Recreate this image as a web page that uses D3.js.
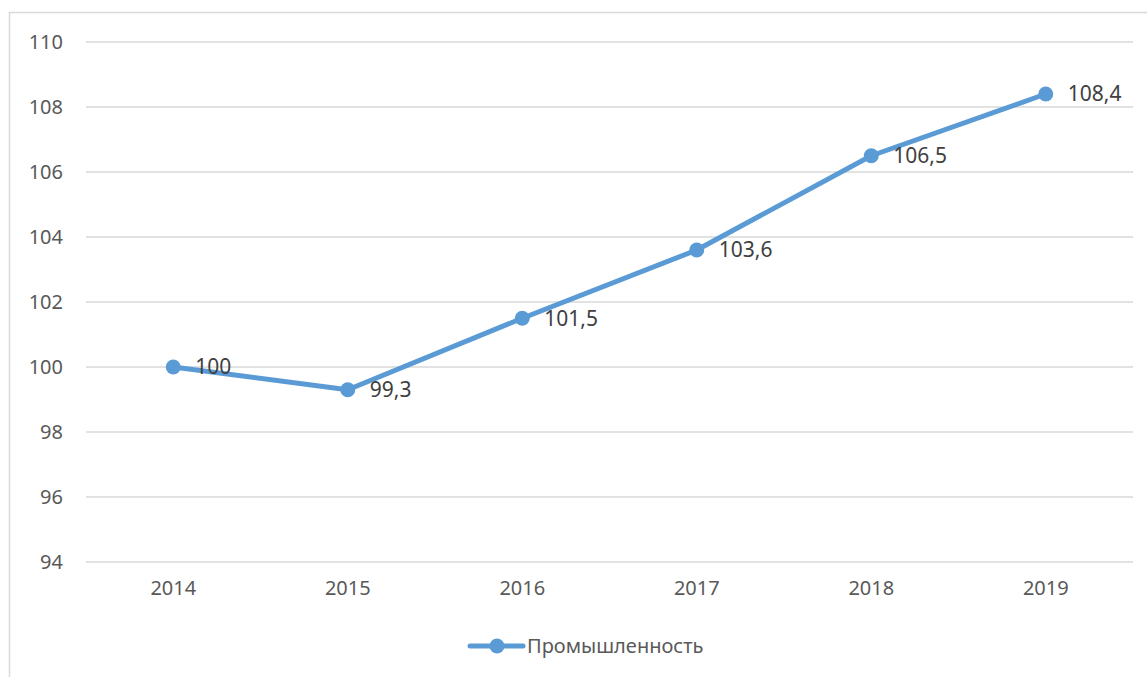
<!DOCTYPE html>
<html>
<head>
<meta charset="utf-8">
<script src="https://cdn.jsdelivr.net/npm/d3@7"></script>
<style>
  body { margin: 0; background: #fff; }
  svg { display: block; }
  text { font-family: "Noto Sans", "Liberation Sans", sans-serif; }
</style>
</head>
<body>
<div id="chart"></div>
<script>
// data
const years = ["2014", "2015", "2016", "2017", "2018", "2019"];
const values = [100, 99.3, 101.5, 103.6, 106.5, 108.4];
const labels = ["100", "99,3", "101,5", "103,6", "106,5", "108,4"];
const yTicks = [94, 96, 98, 100, 102, 104, 106, 108, 110];
const seriesName = "Промышленность";

const width = 1147, height = 677;
const margin = { left: 86, right: 14, top: 42, bottom: 115 };
const blue = "#5B9BD5";

const svg = d3.select("#chart").append("svg")
    .attr("width", width)
    .attr("height", height);

// outer frame
svg.append("rect")
    .attr("x", 9.5).attr("y", 12.5)
    .attr("width", width).attr("height", height)
    .attr("fill", "none")
    .attr("stroke", "#d9d9d9")
    .attr("stroke-width", 1.5);

const x = d3.scaleBand()
    .domain(years)
    .range([margin.left, width - margin.right]);

const y = d3.scaleLinear()
    .domain([94, 110])
    .range([height - margin.bottom, margin.top]);

// grid
svg.append("g")
    .selectAll("line")
    .data(yTicks)
    .enter().append("line")
    .attr("x1", margin.left)
    .attr("x2", width - margin.right)
    .attr("y1", d => y(d))
    .attr("y2", d => y(d))
    .attr("stroke", "#d9d9d9")
    .attr("stroke-width", 1.5);

// y axis labels
const yAxis = svg.append("g")
    .attr("transform", `translate(${margin.left - 23},0)`)
    .call(d3.axisLeft(y).tickValues(yTicks).tickSize(0).tickPadding(0));
yAxis.select(".domain").remove();
yAxis.selectAll("text")
    .attr("fill", "#595959")
    .attr("font-size", 20)
    .style("font-family", "Noto Sans, sans-serif");

// x axis labels
const xAxis = svg.append("g")
    .attr("transform", `translate(0,${y(94) + 19})`)
    .call(d3.axisBottom(x).tickSize(0).tickPadding(0));
xAxis.select(".domain").remove();
xAxis.selectAll("text")
    .attr("fill", "#595959")
    .attr("font-size", 20)
    .attr("dy", "0.71em")
    .style("font-family", "Noto Sans, sans-serif");

const cx = d => x(d) + x.bandwidth() / 2;
const pts = years.map((d, i) => ({ year: d, value: values[i], label: labels[i] }));

// line
svg.append("path")
    .datum(pts)
    .attr("fill", "none")
    .attr("stroke", blue)
    .attr("stroke-width", 5)
    .attr("stroke-linejoin", "round")
    .attr("stroke-linecap", "round")
    .attr("d", d3.line().x(d => cx(d.year)).y(d => y(d.value)));

svg.append("g")
    .selectAll("circle")
    .data(pts)
    .enter().append("circle")
    .attr("cx", d => cx(d.year))
    .attr("cy", d => y(d.value))
    .attr("r", 7.5)
    .attr("fill", blue);

svg.append("g")
    .selectAll("text")
    .data(pts)
    .enter().append("text")
    .attr("x", d => cx(d.year) + 22)
    .attr("y", d => y(d.value))
    .attr("dy", "0.35em")
    .attr("fill", "#404040")
    .attr("font-size", 21)
    .text(d => d.label);

// legend
const lg = svg.append("g").attr("transform", "translate(470,646)");
lg.append("line")
    .attr("x1", 0).attr("x2", 53)
    .attr("stroke", blue)
    .attr("stroke-width", 5)
    .attr("stroke-linecap", "round");
lg.append("circle")
    .attr("cx", 27).attr("r", 7.5)
    .attr("fill", blue);
lg.append("text")
    .attr("x", 57)
    .attr("dy", "0.35em")
    .attr("fill", "#595959")
    .attr("font-size", 20)
    .text(seriesName);
</script>
</body>
</html>
